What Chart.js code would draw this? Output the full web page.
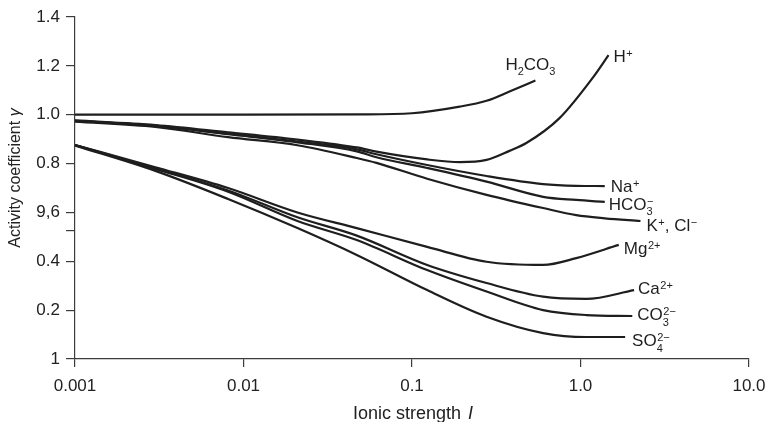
<!DOCTYPE html>
<html lang="en">
<head>
<meta charset="UTF-8">
<title>Activity coefficient vs ionic strength</title>
<script src="https://cdn.jsdelivr.net/npm/chart.js"></script>
<style>
  body { margin: 0; background: #fff; }
  #wrap { width: 768px; height: 422px; }
</style>
</head>
<body>
<div id="wrap"><canvas id="chart" width="768" height="422"></canvas></div>
<script>
// values (ionic strength I, activity coefficient gamma)
const xTickValues = [0.001, 0.01, 0.1, 1, 10];
const xTickLabels = ['0.001', '0.01', '0.1', '1.0', '10.0'];
const yTickValues = [0, 0.2, 0.4, 0.525, 0.6, 0.8, 1.0, 1.2, 1.4];
const yTickLabels = ['1', '0.2', '0.4', '', '9,6', '0.8', '1.0', '1.2', '1.4'];

const h2co3X = [0.001, 0.01, 0.05, 0.1, 0.192, 0.277, 0.379, 0.54];
const h2co3Y = [1.0, 1.0, 1.001, 1.006, 1.033, 1.057, 1.095, 1.14];

const hX = [0.001, 0.003, 0.0081, 0.0209, 0.047, 0.0615, 0.123, 0.192, 0.277, 0.379, 0.477, 0.748, 1.19, 1.467];
const hY = [0.977, 0.958, 0.928, 0.898, 0.866, 0.849, 0.817, 0.806, 0.815, 0.852, 0.884, 0.985, 1.154, 1.244];

const monoX = [0.001, 0.003, 0.0081, 0.0209, 0.047, 0.0615, 0.123, 0.277, 0.6, 0.943, 1.393];
const naY = [0.975, 0.955, 0.922, 0.89, 0.858, 0.838, 0.794, 0.749, 0.716, 0.709, 0.708];
const hco3Y = [0.975, 0.955, 0.92, 0.887, 0.85, 0.826, 0.782, 0.726, 0.664, 0.651, 0.643];
const kclX = [0.001, 0.003, 0.0081, 0.0209, 0.047, 0.0615, 0.123, 0.277, 0.6, 0.943, 1.393, 2.27];
const kclY = [0.972, 0.95, 0.908, 0.875, 0.823, 0.803, 0.738, 0.672, 0.618, 0.589, 0.576, 0.565];

const mgX = [0.001, 0.003, 0.0081, 0.0209, 0.047, 0.123, 0.277, 0.6, 0.943, 1.687];
const mgY = [0.876, 0.785, 0.70, 0.60, 0.536, 0.459, 0.398, 0.385, 0.413, 0.467];
const caX = [0.001, 0.003, 0.0081, 0.0209, 0.047, 0.123, 0.277, 0.6, 1.08, 2.08];
const caY = [0.876, 0.78, 0.69, 0.58, 0.505, 0.385, 0.311, 0.255, 0.246, 0.282];
const co3X = [0.001, 0.003, 0.0081, 0.0209, 0.047, 0.123, 0.277, 0.6, 1.08, 2.03];
const co3Y = [0.876, 0.778, 0.685, 0.565, 0.487, 0.364, 0.276, 0.20, 0.18, 0.176];
const so4X = [0.001, 0.003, 0.0081, 0.0209, 0.047, 0.123, 0.277, 0.6, 1.08, 1.84];
const so4Y = [0.874, 0.77, 0.655, 0.536, 0.426, 0.282, 0.173, 0.106, 0.09, 0.09];

// curve labels: [text, kind] where kind is '', 'sup', 'sub' or a {sup, sub} stack
const seriesLabels = [
    [['H', ''], ['2', 'sub'], ['CO', ''], ['3', 'sub']],
    [['H', ''], ['+', 'sup']],
    [['Na', ''], ['+', 'sup']],
    [['HCO', ''], [{ sup: '\u2212', sub: '3' }, 'stack']],
    [['K', ''], ['+', 'sup'], [', Cl', ''], ['\u2212', 'sup']],
    [['Mg', ''], ['2+', 'sup']],
    [['Ca', ''], ['2+', 'sup']],
    [['CO', ''], [{ sup: '2\u2212', sub: '3' }, 'stack']],
    [['SO', ''], [{ sup: '2\u2212', sub: '4' }, 'stack']]
];
// label placement relative to the last point of each curve (px)
const labelOffsets = [[-30, -11], [5, 7], [6, 6], [4, 8], [6, 10], [5, 9], [4, 4], [5, 4], [7, 9]];

const FONT = '"Liberation Sans", Arial, Helvetica, sans-serif';
const INK = '#1e1e1e';
const AXIS = '#3c3c3c';

function pts(xs, ys) {
    return xs.map((x, i) => ({ x: x, y: ys[i] }));
}

function line(xs, ys) {
    return {
        data: pts(xs, ys),
        borderColor: INK,
        borderWidth: 2.2,
        pointRadius: 0,
        fill: false,
        cubicInterpolationMode: 'monotone'
    };
}

function drawRich(ctx, parts, x, y) {
    parts.forEach(p => {
        const s = p[0], kind = p[1];
        if (kind === '') {
            ctx.font = '17px ' + FONT;
            ctx.fillText(s, x, y);
            x += ctx.measureText(s).width;
        } else if (kind === 'sup') {
            ctx.font = '11px ' + FONT;
            ctx.fillText(s, x + 0.5, y - 5);
            x += ctx.measureText(s).width + 0.5;
        } else if (kind === 'sub') {
            ctx.font = '11px ' + FONT;
            ctx.fillText(s, x, y + 5.5);
            x += ctx.measureText(s).width;
        } else {
            ctx.font = '11px ' + FONT;
            ctx.fillText(s.sup, x + 0.5, y - 5);
            ctx.fillText(s.sub, x, y + 5.5);
            x += Math.max(ctx.measureText(s.sup).width, ctx.measureText(s.sub).width);
        }
    });
}

const labelPlugin = {
    id: 'curveLabels',
    afterDatasetsDraw(chart) {
        const ctx = chart.ctx;
        ctx.save();
        ctx.fillStyle = INK;
        ctx.textBaseline = 'alphabetic';
        ctx.textAlign = 'left';
        chart.data.datasets.forEach((ds, i) => {
            const meta = chart.getDatasetMeta(i);
            const last = meta.data[meta.data.length - 1];
            drawRich(ctx, seriesLabels[i], last.x + labelOffsets[i][0], last.y + labelOffsets[i][1]);
        });

        // axis titles (mixed upright / italic)
        const area = chart.chartArea;
        ctx.fillStyle = '#222';
        const xa = 'Ionic strength ';
        ctx.font = 'italic 18px ' + FONT;
        const wI = ctx.measureText('I').width;
        ctx.font = '18px ' + FONT;
        const wa = ctx.measureText(xa).width;
        const sx = (area.left + area.right) / 2 - (wa + wI) / 2;
        ctx.fillText(xa, sx, 419);
        ctx.font = 'italic 18px ' + FONT;
        ctx.fillText('I', sx + wa + 2, 419);

        ctx.translate(16, 178);
        ctx.rotate(-Math.PI / 2);
        ctx.textBaseline = 'middle';
        const ya = 'Activity coefficient ';
        ctx.font = '16px ' + FONT;
        const wy = ctx.measureText(ya).width;
        ctx.font = 'italic 16px ' + FONT;
        const wg = ctx.measureText('\u03b3').width;
        ctx.font = '16px ' + FONT;
        ctx.fillText(ya, -(wy + wg) / 2, 0);
        ctx.font = 'italic 16px ' + FONT;
        ctx.fillText('\u03b3', -(wy + wg) / 2 + wy, 0);
        ctx.restore();
    }
};

new Chart(document.getElementById('chart'), {
    type: 'line',
    data: {
        datasets: [
            line(h2co3X, h2co3Y),
            line(hX, hY),
            line(monoX, naY),
            line(monoX, hco3Y),
            line(kclX, kclY),
            line(mgX, mgY),
            line(caX, caY),
            line(co3X, co3Y),
            line(so4X, so4Y)
        ]
    },
    options: {
        responsive: false,
        devicePixelRatio: 1,
        animation: false,
        layout: { padding: { top: 17, right: 19, left: 0, bottom: 0 } },
        plugins: { legend: { display: false }, tooltip: { enabled: false } },
        scales: {
            x: {
                type: 'logarithmic',
                min: 0.001,
                max: 10,
                afterBuildTicks: s => { s.ticks = xTickValues.map(v => ({ value: v })); },
                afterFit: s => { s.height = 63; s.paddingRight = 4; },
                ticks: {
                    callback: (v, i) => xTickLabels[i],
                    autoSkip: false,
                    maxRotation: 0,
                    padding: 9,
                    color: '#222',
                    font: { family: FONT, size: 17 }
                },
                grid: { drawOnChartArea: false, tickLength: 8, color: AXIS, lineWidth: 1.2 },
                border: { color: AXIS, width: 1.2 }
            },
            y: {
                type: 'linear',
                min: 0,
                max: 1.4,
                afterBuildTicks: s => { s.ticks = yTickValues.map(v => ({ value: v })); },
                afterFit: s => { s.width = 75; },
                ticks: {
                    callback: (v, i) => yTickLabels[i],
                    autoSkip: false,
                    padding: 6,
                    color: '#222',
                    font: { family: FONT, size: 17 }
                },
                grid: { drawOnChartArea: false, tickLength: 9, color: AXIS, lineWidth: 1.2 },
                border: { color: AXIS, width: 1.2 }
            }
        }
    },
    plugins: [labelPlugin]
});
</script>
</body>
</html>
